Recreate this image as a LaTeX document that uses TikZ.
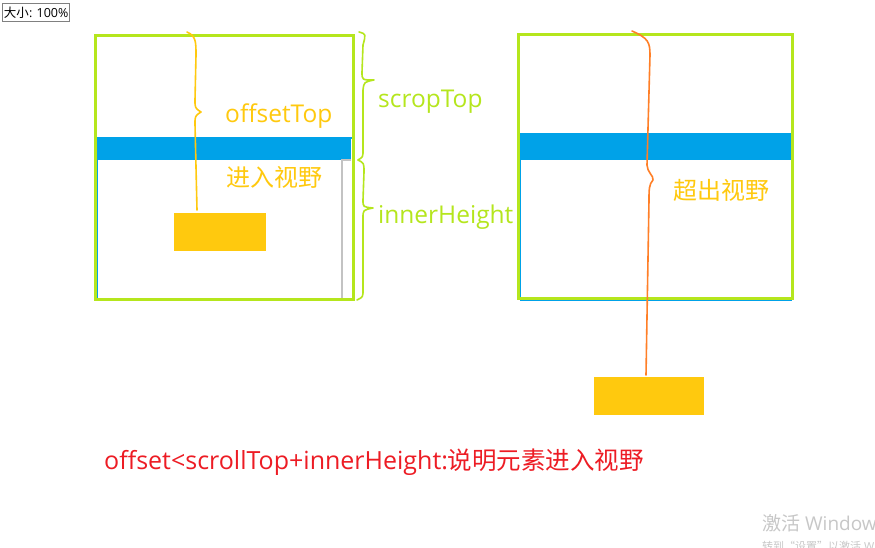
\documentclass[tikz,border=0pt]{standalone}
\usepackage{fontspec}
\setmainfont{Open Sans}
\newfontfamily\cjk{Noto Sans CJK SC}
\definecolor{limegreen}{HTML}{B5E61D}
\definecolor{skyblue}{HTML}{00A2E8}
\definecolor{amber}{HTML}{FFC90E}
\definecolor{tangerine}{HTML}{FF7F27}
\definecolor{alertred}{HTML}{ED1C24}
\definecolor{lightgray}{HTML}{C3C3C3}
\tikzset{
  viewbox/.style={draw=limegreen, line width=3pt},
  barfill/.style={fill=skyblue},
  elemfill/.style={fill=amber},
  handline/.style={line width=1.6pt, line cap=round, line join=round},
  label/.style={inner sep=0pt, anchor=west, font=\fontsize{24.5}{28}\selectfont},
  cjklabel/.style={label, font=\cjk\fontsize{24}{28}\selectfont},
}
\begin{document}
\begin{tikzpicture}[x=1pt, y=-1pt]
  \useasboundingbox (0,0) rectangle (875,547);
  \fill[white] (0,0) rectangle (875,547);

  % zoom indicator
  \node[draw=gray, line width=1pt, inner sep=1.5pt, anchor=north west,
    minimum height=18pt, font=\fontsize{12.5}{14}\selectfont] (zoombox) at (2,3)
    {{\cjk 大小}: 100\%};

  % left viewport: element inside the view
  \draw[skyblue, line width=1.5pt] (97.5,138) rectangle (353,300);
  \fill[barfill] (96,138) rectangle (351,160);
  \draw[lightgray, line width=2.5pt] (351,160) -- (342,160) -- (342,299);
  \draw[viewbox] (95,35) rectangle (353,299);
  \fill[elemfill] (174,213) rectangle (266,251);

  % offsetTop brace
  \draw[handline, amber] (187,32) .. controls (196,36) and (196,42) .. (196,55)
    -- (195,100) .. controls (195,108) .. (201,112)
    .. controls (195,116) .. (195,124) -- (197,210);
  \node[label, amber] (offsettop) at (225,116) {offsetTop};
  \node[cjklabel, amber] (inview) at (226,177) {进入视野};

  % scroll braces
  \draw[handline, limegreen] (359,32) .. controls (366,34) .. (363,45)
    -- (362,72) .. controls (362,80) .. (374,80)
    .. controls (364,82) .. (363,90) -- (363,150)
    .. controls (363,157) .. (358,160);
  \draw[handline, limegreen] (358,160) .. controls (364,163) .. (364,172)
    -- (363,200) .. controls (363,207) .. (373,208)
    .. controls (363,210) .. (363,218) -- (363,290)
    .. controls (363,297) .. (357,300);
  \node[label, limegreen] (scroptop) at (378,102) {scropTop};
  \node[label, limegreen] (innerheight) at (378,217) {innerHeight};

  % right viewport: element out of the view
  \draw[skyblue, line width=1.5pt] (520.5,134) rectangle (791.5,300);
  \fill[barfill] (520,134) rectangle (791,160);
  \draw[viewbox] (518,34) rectangle (792,298);
  \fill[elemfill] (594,377) rectangle (704,415);
  \draw[handline, tangerine] (632,31) .. controls (648,38) and (650,42) .. (650,55)
    -- (647,165) .. controls (647,172) and (654,176) .. (653,180)
    .. controls (649,184) and (649,190) .. (649,200) -- (646,375);
  \node[cjklabel, amber] (outview) at (673,190) {超出视野};

  % condition
  \node[label, alertred, font=\fontsize{25}{28}\selectfont] (rule) at (104,462)
    {offset<scrollTop+innerHeight:{\cjk\fontsize{24.5}{28}\selectfont 说明元素进入视野}};

  % watermark
  \begin{scope}
    \clip (0,0) rectangle (875,547);
    \node[inner sep=0pt, anchor=west, text=black!22,
      font=\fontsize{19}{22}\selectfont] (mark) at (762,523) {{\cjk 激活} Windows};
    \node[inner sep=0pt, anchor=west, text=black!22,
      font=\fontsize{11}{13}\selectfont] (markhint) at (762,546) {{\cjk 转到“设置”以激活} Windows{\cjk 。}};
  \end{scope}
\end{tikzpicture}
\end{document}
